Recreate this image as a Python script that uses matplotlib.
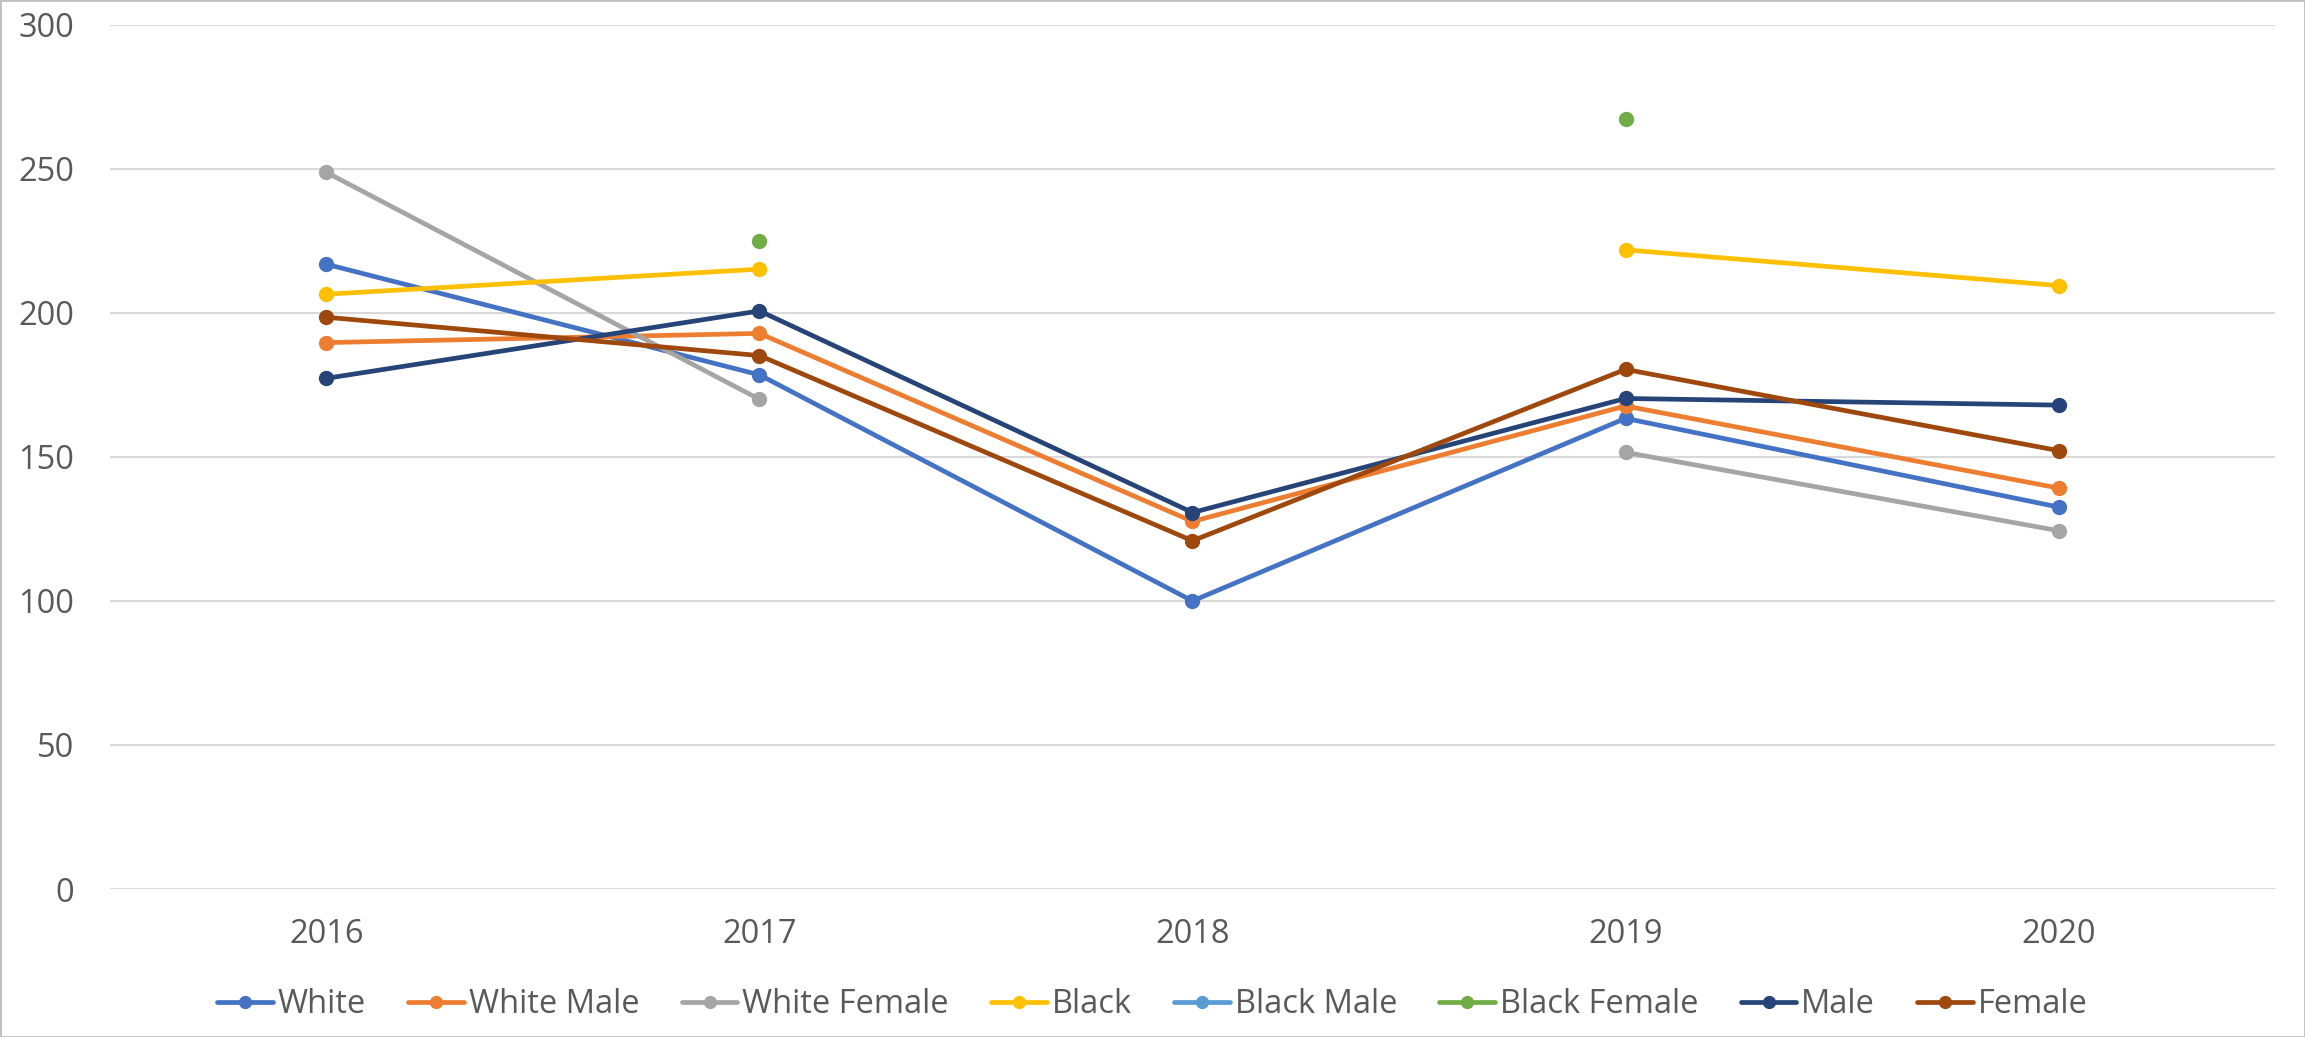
import matplotlib.pyplot as plt
import numpy as np
from matplotlib.patches import Rectangle

years = ['2016', '2017', '2018', '2019', '2020']
nan = np.nan

white = [216.9, 178.5, 100.0, 163.4, 132.6]
white_male = [189.7, 192.9, 127.6, 167.7, 139.2]
white_female = [248.8, 170.0, nan, 151.6, 124.4]
black = [206.5, 215.2, nan, 221.9, 209.5]
black_male = [nan, nan, nan, nan, nan]
black_female = [nan, 225.1, nan, 267.3, nan]
male = [177.3, 200.7, 130.7, 170.3, 168.0]
female = [198.5, 185.2, 120.9, 180.4, 152.2]

series = [
    ('White', white, '#4472C4'),
    ('White Male', white_male, '#ED7D31'),
    ('White Female', white_female, '#A5A5A5'),
    ('Black', black, '#FFC000'),
    ('Black Male', black_male, '#5B9BD5'),
    ('Black Female', black_female, '#70AD47'),
    ('Male', male, '#264478'),
    ('Female', female, '#9E480E'),
]

plt.rcParams['font.family'] = ['Open Sans', 'DejaVu Sans']

fig = plt.figure(figsize=(23.05, 10.37), dpi=100)
ax = fig.add_axes([0.0477, 0.1427, 0.9393, 0.8333])

x = np.arange(len(years))
for name, vals, color in series:
    ax.plot(x, vals, color=color, lw=3.4, marker='o', markersize=10,
            label=name, solid_capstyle='round')

ax.set_xlim(-0.5, len(years) - 0.5)
ax.set_ylim(0, 300)
ax.set_yticks(np.arange(0, 301, 50))
ax.set_xticks(x)
ax.set_xticklabels(years)
ax.yaxis.grid(True, color='#D9D9D9', lw=1.5)
ax.set_axisbelow(True)
for s in ax.spines.values():
    s.set_visible(False)
ax.tick_params(axis='both', length=0, labelsize=23.5, colors='#595959')
ax.tick_params(axis='y', pad=26)
ax.tick_params(axis='x', pad=21)

fig.legend(loc='center', bbox_to_anchor=(0.5, 0.031), ncol=8, frameon=False,
           fontsize=23.5, labelcolor='#595959', handlelength=1.7,
           handletextpad=0.15, columnspacing=1.3, markerscale=0.85)

fig.patches.append(Rectangle((0, 0), 1, 1, transform=fig.transFigure,
                             fill=False, edgecolor='#BFBFBF', lw=2))

fig.savefig('out.png', dpi=100)
